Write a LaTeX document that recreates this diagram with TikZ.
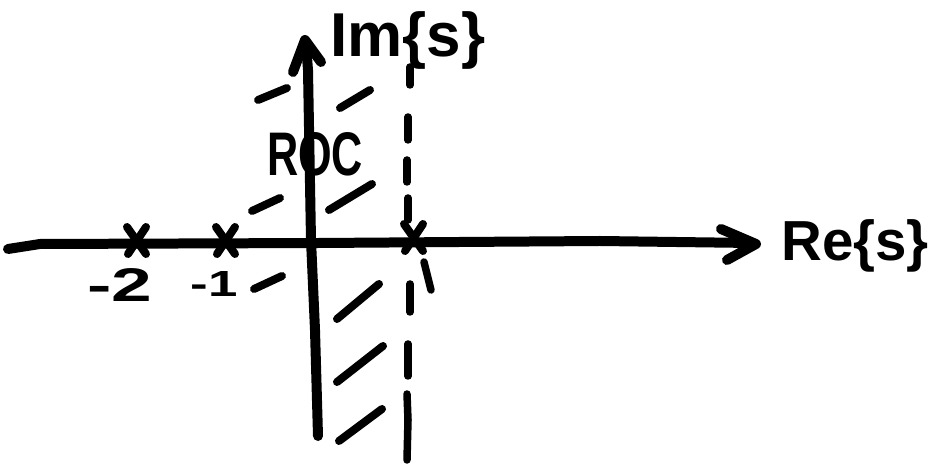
\documentclass[tikz,border=0pt]{standalone}
\usepackage{graphicx}
\usepackage{fontspec}
\setmainfont{Liberation Sans}
\tikzset{
  pen/.style={line width=0.2cm, line cap=round, line join=round, black},
  hatch/.style={line width=0.16cm, line cap=round, black},
  dashseg/.style={line width=0.15cm, line cap=round, black},
  crossmark/.style={line width=0.16cm, line cap=round, black},
  lbl/.style={inner sep=0pt, font=\bfseries}
}
\begin{document}
\begin{tikzpicture}[x=0.02cm, y=-0.02cm]
\useasboundingbox (0,0) rectangle (931,465);
% real axis
\draw[pen] (8,249) -- (40,244) -- (320,243) -- (600,241) -- (752,243);
\draw[pen] (721,229) -- (756,244) -- (727,260);
% imaginary axis
\draw[pen] (318,436) -- (315,330) -- (311,240) -- (308,70) -- (306,44);
\draw[pen] (293,72) -- (305,40) -- (321,62);
% dashed line
\foreach \a/\b/\c/\d in {410/67/410/85, 408/117/408/140, 407/160/407/182, 408/198/408/220,
  410/284/410/312, 408/344/408/376, 407/394/408/420, 408/420/407/460}
  \draw[dashseg] (\a,\b) -- (\c,\d);
\draw[dashseg] (424,262) -- (431,290);
% hatches
\foreach \a/\b/\c/\d in {258/100/287/88, 340/108/370/90, 252/211/280/198, 329/210/372/184,
  254/289/282/276, 337/319/379/284, 337/382/383/346, 339/441/382/409}
  \draw[hatch] (\a,\b) -- (\c,\d);
% crosses
\foreach \x/\y in {137/241, 226/241, 414/238}{
  \draw[crossmark] (\x-10,\y-14) -- (\x+9,\y+13);
  \draw[crossmark] (\x+9,\y-14) -- (\x-9,\y+13);
}
% labels
\node[lbl] (im) at (408,40) {\resizebox{3.1cm}{!}{Im\{s\}}};
\node[lbl] (re) at (855,246) {\resizebox{2.95cm}{!}{Re\{s\}}};
\node[lbl] (roc) at (315,154) {\resizebox{1.92cm}{0.86cm}{ROC}};
\node[lbl] (m2) at (120,285) {\resizebox{1.3cm}{0.66cm}{-2}};
\node[lbl] (m1) at (214,284) {\resizebox{0.94cm}{0.5cm}{-1}};
\end{tikzpicture}
\end{document}
